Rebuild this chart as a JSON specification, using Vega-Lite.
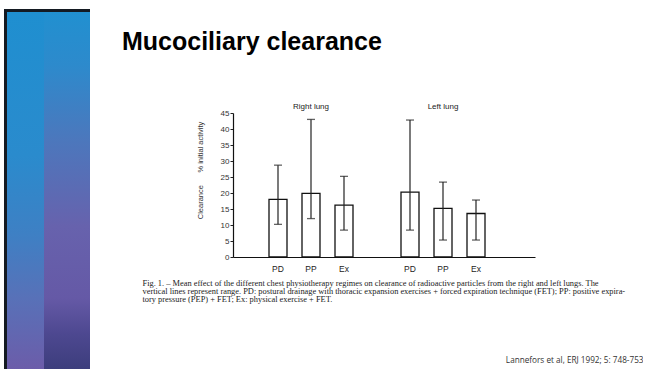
{
  "$schema": "https://vega.github.io/schema/vega-lite/v6.json",
  "background": "white",
  "padding": {"left": 4, "top": 8, "right": 0, "bottom": 0},
  "spacing": 32,
  "config": {"view": {"stroke": null}, "font": "Liberation Sans"},
  "hconcat": [
    {
      "width": 86,
      "height": 257,
      "data": {"values": [
        {"part": "a", "x0": 3, "x1": 40, "y0": 0, "y1": 1.393},
        {"part": "b", "x0": 40, "x1": 86, "y0": 0, "y1": 1.393},
        {"part": "frame", "x0": 0, "x1": 3, "y0": 0, "y1": 1.405},
        {"part": "frame", "x0": 0, "x1": 86, "y0": 1.393, "y1": 1.405}
      ]},
      "encoding": {
        "x": {"field": "x0", "type": "quantitative", "scale": {"domain": [0, 86], "nice": false, "zero": false}, "axis": null},
        "x2": {"field": "x1"},
        "y": {"field": "y0", "type": "quantitative", "scale": {"domain": [0, 1], "nice": false, "zero": false}, "axis": null},
        "y2": {"field": "y1"}
      },
      "layer": [
        {"transform": [{"filter": "datum.part === 'a'"}], "mark": {"type": "rect", "color": {"gradient": "linear", "x1": 0, "y1": 0, "x2": 0, "y2": 1, "stops": [
          {"offset": 0, "color": "#1f8fd0"},
          {"offset": 0.4, "color": "#2a8bcd"},
          {"offset": 0.62, "color": "#3e80c4"},
          {"offset": 0.8, "color": "#5871b8"},
          {"offset": 1, "color": "#6c5ca9"}
        ]}}},
        {"transform": [{"filter": "datum.part === 'b'"}], "mark": {"type": "rect", "color": {"gradient": "linear", "x1": 0, "y1": 0, "x2": 0, "y2": 1, "stops": [
          {"offset": 0, "color": "#2190d0"},
          {"offset": 0.15, "color": "#2d8acc"},
          {"offset": 0.35, "color": "#4b78bd"},
          {"offset": 0.6, "color": "#6762ad"},
          {"offset": 0.8, "color": "#6559a6"},
          {"offset": 0.9, "color": "#4d4890"},
          {"offset": 1, "color": "#3c3d7c"}
        ]}}},
        {"transform": [{"filter": "datum.part === 'frame'"}], "mark": {"type": "rect", "color": "#141a22"}}
      ]
    },
    {
      "width": 302,
      "height": 144,
      "title": {
        "text": ["", "Mucociliary clearance"],
        "anchor": "start",
        "frame": "group",
        "dx": -111,
        "baseline": "top",
        "lineHeight": 18,
        "offset": 48,
        "fontSize": 25,
        "fontWeight": "bold",
        "font": "Liberation Sans",
        "color": "#000000"
      },
      "data": {"values": [
        {"key": "R PD", "mean": 18.0, "lo": 10.2, "hi": 28.7},
        {"key": "R PP", "mean": 19.9, "lo": 12.0, "hi": 43.0},
        {"key": "R Ex", "mean": 16.2, "lo": 8.4, "hi": 25.2},
        {"key": "L PD", "mean": 20.3, "lo": 8.4, "hi": 42.8},
        {"key": "L PP", "mean": 15.2, "lo": 5.3, "hi": 23.4},
        {"key": "L Ex", "mean": 13.6, "lo": 5.3, "hi": 17.8}
      ]},
      "layer": [
        {
          "mark": {"type": "bar", "fill": "white", "stroke": "#111111", "strokeWidth": 1.3},
          "encoding": {
            "x": {
              "field": "key", "type": "nominal",
              "scale": {"domain": ["pad1", "R PD", "R PP", "R Ex", "gap", "L PD", "L PP", "L Ex", "pad2"], "paddingInner": 0.4545, "paddingOuter": 0.303, "align": 0.15},
              "axis": {
                "labelExpr": "indexof(datum.value, ' ') < 0 ? '' : split(datum.value, ' ')[1]",
                "labelAngle": 0,
                "ticks": false,
                "labelPadding": 7,
                "labelFontSize": 8.5,
                "labelColor": "#222222",
                "domainColor": "#111111",
                "domainWidth": 1.2,
                "title": [
                  "Fig. 1. \u2013  Mean effect of the different chest physiotherapy regimes on clearance of radioactive particles from the right and left lungs.  The",
                  "vertical lines represent range. PD: postural drainage with thoracic expansion exercises + forced expiration technique (FET); PP: positive expira-",
                  "tory pressure (PEP) + FET; Ex: physical exercise + FET."
                ],
                "titleFont": "Liberation Serif",
                "titleFontSize": 8.4,
                "titleFontWeight": "normal",
                "titleColor": "#1a1a1a",
                "titleLineHeight": 8.2,
                "titleAlign": "left",
                "titleBaseline": "top",
                "titleX": -91,
                "titleY": 21
              }
            },
            "y": {
              "field": "mean", "type": "quantitative",
              "scale": {"domain": [0, 45], "nice": false},
              "axis": {
                "orient": "left",
                "values": [0, 5, 10, 15, 20, 25, 30, 35, 40, 45],
                "grid": false,
                "tickSize": 3,
                "tickColor": "#222222",
                "domainColor": "#111111",
                "domainWidth": 1.2,
                "labelFontSize": 8,
                "labelPadding": 1,
                "labelColor": "#333333",
                "title": "Clearance\u00a0\u00a0\u00a0\u00a0\u00a0\u00a0% initial activity",
                "titleFontSize": 7.5,
                "titleFontWeight": "normal",
                "titleColor": "#333333",
                "titleX": -33,
                "titleY": 57,
                "titleAlign": "center",
                "titleBaseline": "middle"
              }
            }
          }
        },
        {
          "mark": {"type": "rule", "color": "#222222", "strokeWidth": 1.2},
          "encoding": {
            "x": {"field": "key", "type": "nominal"},
            "y": {
              "field": "lo", "type": "quantitative",
              "axis": {
                "orient": "right",
                "labels": false, "ticks": false, "domain": false, "grid": false,
                "title": "Lannefors et al, ERJ 1992; 5: 748-753",
                "titleAngle": 0,
                "titleAlign": "right",
                "titleBaseline": "middle",
                "titleX": 108,
                "titleY": 247,
                "titleFont": "Open Sans",
                "titleFontSize": 8.2,
                "titleFontWeight": "normal",
                "titleColor": "#333333"
              }
            },
            "y2": {"field": "hi"}
          }
        },
        {
          "mark": {"type": "tick", "color": "#222222", "thickness": 1.3, "size": 8},
          "encoding": {
            "x": {"field": "key", "type": "nominal"},
            "y": {"field": "hi", "type": "quantitative", "axis": null}
          }
        },
        {
          "mark": {"type": "tick", "color": "#222222", "thickness": 1.3, "size": 8},
          "encoding": {
            "x": {"field": "key", "type": "nominal"},
            "y": {"field": "lo", "type": "quantitative", "axis": null}
          }
        },
        {
          "data": {"values": [
            {"key": "R PP", "label": "Right lung"},
            {"key": "L PP", "label": "Left lung"}
          ]},
          "mark": {"type": "text", "baseline": "bottom", "dy": -2, "fontSize": 8, "color": "#222222"},
          "encoding": {
            "x": {"field": "key", "type": "nominal"},
            "y": {"datum": 45, "type": "quantitative", "axis": null},
            "text": {"field": "label"}
          }
        }
      ],
      "resolve": {"axis": {"y": "independent"}}
    }
  ]
}
